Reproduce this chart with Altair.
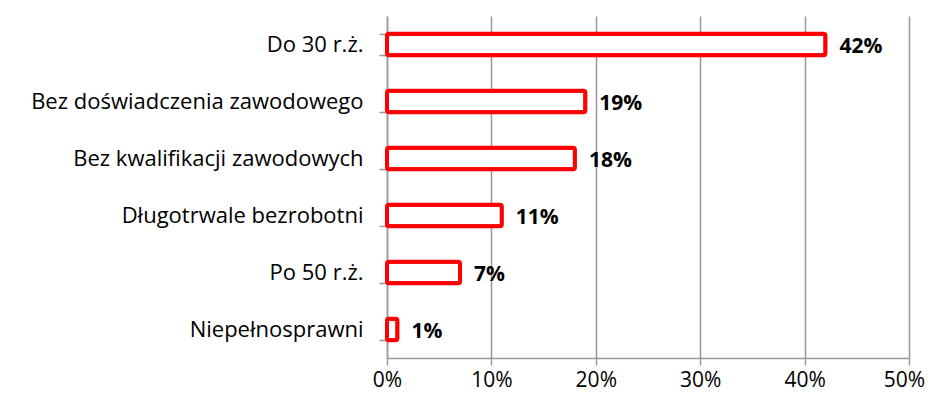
import altair as alt
import pandas as pd

categories = ["Do 30 r.ż.", "Bez doświadczenia zawodowego", "Bez kwalifikacji zawodowych",
              "Długotrwale bezrobotni", "Po 50 r.ż.", "Niepełnosprawni"]
values = [42, 19, 18, 11, 7, 1]
labels = ["42%", "19%", "18%", "11%", "7%", "1%"]

df = pd.DataFrame({"cat": categories, "val": values, "lab": labels})

FONT = "Open Sans"

y = alt.Y("cat:N", sort=categories, title=None,
          scale=alt.Scale(paddingInner=0.62, paddingOuter=0.31),
          axis=alt.Axis(domainColor="#999999", domainWidth=1.5, tickColor="#999999",
                        tickWidth=1.5, tickSize=8, labelPadding=16, labelFontSize=22,
                        labelFont=FONT, labelColor="#000000", labelLimit=400,
                        tickBand="extent"))
x = alt.X("val:Q", title=None,
          scale=alt.Scale(domain=[0, 50], nice=False),
          axis=alt.Axis(values=[0, 10, 20, 30, 40, 50], labelExpr="datum.value + '%'",
                        grid=True, gridColor="#999999", gridWidth=1.5,
                        domainColor="#999999", domainWidth=1.5, tickColor="#999999",
                        tickWidth=1.5, tickSize=7, labelPadding=4, labelFontSize=21,
                        labelOffset={"condition": {"test": "datum.value == 50", "value": -5}, "value": 0},
                        labelFlush=False, labelFont=FONT, labelColor="#000000"))

bars = alt.Chart(df).mark_bar(fill="white", stroke="#ff0000", strokeWidth=4,
                              cornerRadius=2).encode(x=x, y=y)
text = alt.Chart(df).mark_text(align="left", baseline="middle", dx=14, dy=2,
                               fontSize=21, fontWeight="bold", font=FONT,
                               color="#000000").encode(x="val:Q", y=alt.Y("cat:N", sort=categories), text="lab:N")

chart = (bars + text).properties(
    width=522, height=342,
    autosize=alt.AutoSizeParams(type="none"),
    padding={"left": 379, "top": 8, "right": 16, "bottom": 35},
).configure_view(stroke=None)

chart.save("out.html", embed_options={"renderer": "svg", "actions": False})
